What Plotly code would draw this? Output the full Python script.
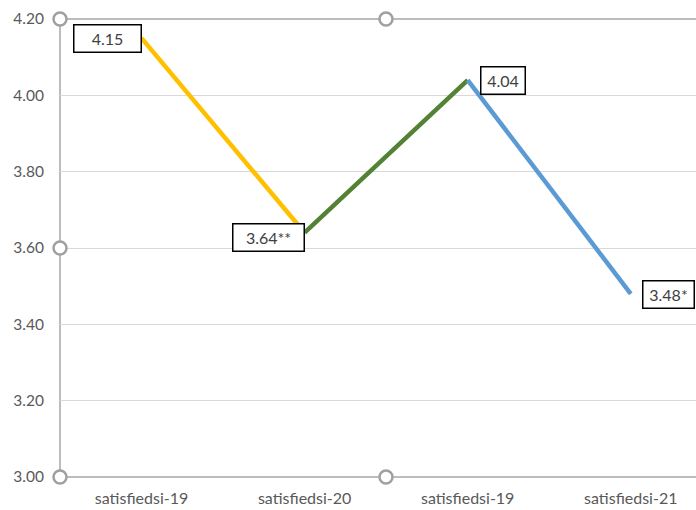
import plotly.graph_objects as go

categories = ["satisfiedsi-19", "satisfiedsi-20", "satisfiedsi-19", "satisfiedsi-21"]
values = [4.15, 3.64, 4.04, 3.48]
labels = ["4.15", "3.64**", "4.04", "3.48*"]
segment_colors = ["#FFC000", "#548235", "#5B9BD5"]
y_ticks = [3.00, 3.20, 3.40, 3.60, 3.80, 4.00, 4.20]

xpos = list(range(len(categories)))
fig = go.Figure()
for i, c in enumerate(segment_colors):
    fig.add_trace(go.Scatter(x=xpos[i:i + 2], y=values[i:i + 2], mode="lines",
                             line=dict(color=c, width=4.5), showlegend=False,
                             hoverinfo="skip"))

label_cfg = [
    dict(xanchor="right", xshift=0, yshift=0, width=64),
    dict(xanchor="right", xshift=0, yshift=-5, width=68),
    dict(xanchor="left", xshift=12, yshift=0, width=41),
    dict(xanchor="left", xshift=11, yshift=-1, width=48),
]
for i, (lab, cfg) in enumerate(zip(labels, label_cfg)):
    fig.add_annotation(x=xpos[i], y=values[i], text=lab, showarrow=False,
                       xanchor=cfg["xanchor"], yanchor="middle",
                       xshift=cfg["xshift"], yshift=cfg["yshift"],
                       width=cfg["width"], height=24, align="center",
                       bordercolor="#000000", borderwidth=1.5, borderpad=1,
                       bgcolor="#FFFFFF",
                       font=dict(family="Lato", size=16, color="#404040"))

frame = "#A6A6A6"
fig.add_shape(type="line", xref="paper", yref="paper", x0=0, x1=1, y0=1, y1=1,
              line=dict(color=frame, width=1.5), layer="below")
fig.add_shape(type="line", xref="paper", yref="paper", x0=0, x1=1, y0=0, y1=0,
              line=dict(color=frame, width=1.5), layer="below")
fig.add_shape(type="line", xref="paper", yref="paper", x0=0, x1=0, y0=0, y1=1,
              line=dict(color=frame, width=1.5), layer="below")

handles = [(0, 1), (326, 1), (0, 0.5), (0, 0), (326, 0)]
for px, py in handles:
    fig.add_shape(type="circle", xref="paper", yref="paper",
                  xsizemode="pixel", ysizemode="pixel",
                  xanchor=0, yanchor=py, x0=px - 6.5, x1=px + 6.5, y0=-6.5, y1=6.5,
                  line=dict(color="#A0A0A0", width=2.5), fillcolor="#FFFFFF",
                  layer="above")

fig.update_layout(
    width=696, height=510,
    margin=dict(l=60, r=0, t=19, b=33),
    paper_bgcolor="#FFFFFF", plot_bgcolor="#FFFFFF",
    font=dict(family="Lato", size=15.5, color="#595959"),
    xaxis=dict(tickmode="array", tickvals=xpos, ticktext=categories,
               range=[-0.50, 3.40], showgrid=False, zeroline=False,
               ticks="", ticklabelstandoff=10,
               tickfont=dict(size=16, color="#595959")),
    yaxis=dict(range=[3.0, 4.2], tickmode="array", tickvals=y_ticks,
               tickformat=".2f", showgrid=True, gridcolor="#D9D9D9",
               gridwidth=1, zeroline=False, ticks="", ticklabelstandoff=15,
               tickfont=dict(size=15.5, color="#595959")),
)

fig.write_html("out.html", config={"displayModeBar": False},
               post_script="document.body.style.margin='0';document.body.style.overflow='hidden';")
